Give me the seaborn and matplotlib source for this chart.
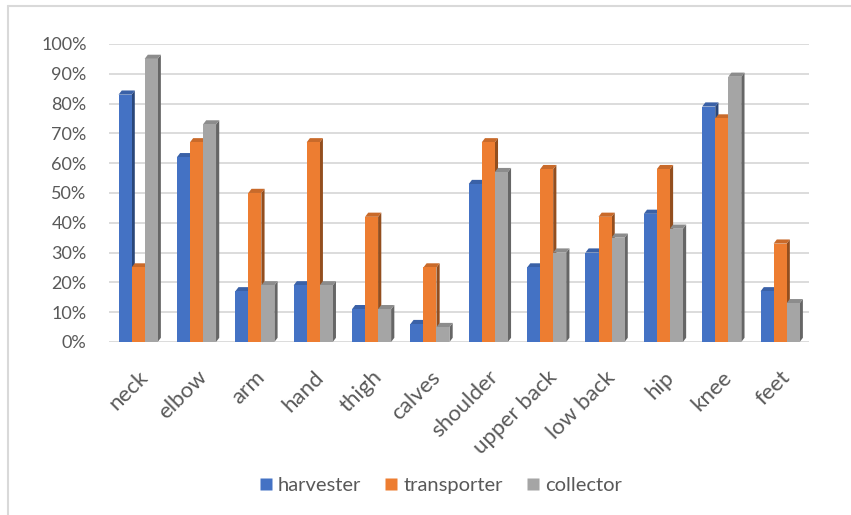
import numpy as np
import pandas as pd
import seaborn as sns
import matplotlib.pyplot as plt
from matplotlib.patches import Polygon
from matplotlib.lines import Line2D
from matplotlib.colors import to_rgb

# body parts and share of workers reporting pain per job
parts = ['neck', 'elbow', 'arm', 'hand', 'thigh', 'calves', 'shoulder',
         'upper back', 'low back', 'hip', 'knee', 'feet']
harvester = [0.83, 0.62, 0.17, 0.19, 0.11, 0.06, 0.53, 0.25, 0.30, 0.43, 0.79, 0.17]
transporter = [0.25, 0.67, 0.50, 0.67, 0.42, 0.25, 0.67, 0.58, 0.42, 0.58, 0.75, 0.33]
collector = [0.95, 0.73, 0.19, 0.19, 0.11, 0.05, 0.57, 0.30, 0.35, 0.38, 0.89, 0.13]
jobs = ['harvester', 'transporter', 'collector']
colors = ['#4472C4', '#ED7D31', '#A5A5A5']

df = pd.DataFrame({'part': parts * 3,
                   'job': np.repeat(jobs, len(parts)),
                   'value': harvester + transporter + collector})

sns.set_style('white')
plt.rcParams['font.family'] = ['Lato', 'DejaVu Sans']
text_col = '#595959'

fig = plt.figure(figsize=(8.51, 5.15), dpi=100)
ax = fig.add_axes([0.128, 0.336, 0.823, 0.5786])

sns.barplot(data=df, x='part', y='value', hue='job', palette=colors,
            width=0.67, gap=0, saturation=1, ax=ax, legend=False,
            edgecolor='none', zorder=3)

# fake the Excel 3D look: side and top faces built from each bar
dx, dy = 0.055, 0.014
for p in list(ax.patches):
    x, w, h = p.get_x(), p.get_width(), p.get_height()
    r, g, b = to_rgb(p.get_facecolor())
    side = (r * 0.62, g * 0.62, b * 0.62)
    top = (r * 0.85, g * 0.85, b * 0.85)
    ax.add_patch(Polygon([(x + w, 0), (x + w + dx, dy), (x + w + dx, h + dy), (x + w, h)],
                         closed=True, facecolor=side, edgecolor='none', zorder=2.9))
    ax.add_patch(Polygon([(x, h), (x + dx, h + dy), (x + w + dx, h + dy), (x + w, h)],
                         closed=True, facecolor=top, edgecolor='none', zorder=2.9))

ax.set_xlim(-0.5, len(parts) - 0.5)
ax.set_ylim(0, 1.0)
ax.set_yticks(np.arange(0, 1.01, 0.1))
ax.set_yticklabels([f'{int(round(v * 100))}%' for v in np.arange(0, 1.01, 0.1)])
ax.yaxis.grid(True, color='#D9D9D9', linewidth=1.3, zorder=0)
ax.xaxis.grid(False)
for s in ax.spines.values():
    s.set_visible(False)
ax.set_xlabel('')
ax.set_ylabel('')
ax.tick_params(axis='y', labelsize=13, labelcolor=text_col, length=0, pad=16)
ax.tick_params(axis='x', labelsize=16, labelcolor=text_col, length=0, pad=18)
plt.setp(ax.get_xticklabels(), rotation=45, ha='right', rotation_mode='anchor')

handles = [Line2D([], [], marker='s', linestyle='none', markersize=8,
                  markerfacecolor=c, markeredgecolor='none') for c in colors]
fig.legend(handles, jobs, loc='center', bbox_to_anchor=(0.517, 0.058), ncol=3,
           frameon=False, fontsize=14.5, labelcolor=text_col,
           handlelength=0.8, handletextpad=0.2, columnspacing=1.1)

# chart frame (top and left edges visible)
fig.add_artist(Line2D([8 / 851, 1], [1 - 6 / 515, 1 - 6 / 515], color='#D9D9D9', lw=1.5))
fig.add_artist(Line2D([8 / 851, 8 / 851], [0, 1 - 6 / 515], color='#D9D9D9', lw=1.5))

fig.savefig('out.png', dpi=100)
